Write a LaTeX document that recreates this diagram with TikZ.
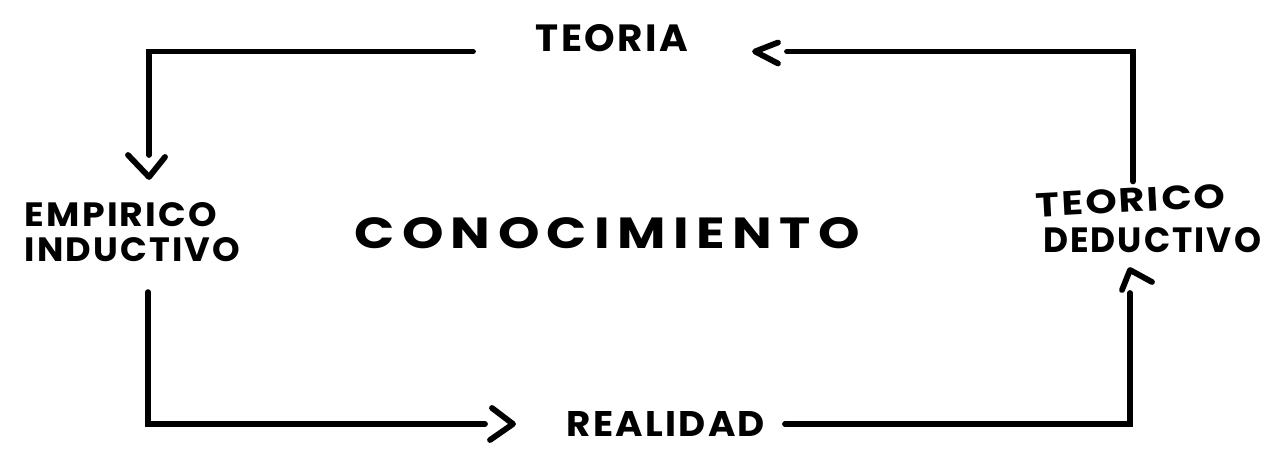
\documentclass[tikz,border=0pt]{standalone}
\usepackage{graphicx}
\usepackage{fontspec}
\setmainfont{Poppins}
\usetikzlibrary{calc}
\newcommand{\fitbox}[3]{\resizebox{#1}{#2}{\bfseries\addfontfeature{LetterSpace=6}#3}}
\newcommand{\spacedbox}[3]{\resizebox{#1}{#2}{\bfseries\addfontfeature{LetterSpace=14}#3}}
\begin{document}
\begin{tikzpicture}[x=1pt,y=-1pt,
  lbl/.style={inner sep=0pt, outer sep=0pt},
  twoline/.style={lbl, align=left, font=\fontsize{10}{35}\selectfont},
  conn/.style={line width=5.8pt, line cap=round, line join=miter},
  chevron/.style={line width=5.8pt, line cap=round, line join=round}]
\useasboundingbox[fill=white] (0,0) rectangle (1272,449);
% labels
\node[lbl] (teoria) at (612,38.5) {\fitbox{152pt}{27pt}{TEORIA}};
\node[twoline] (emp) at (132.5,232.5) {\fitbox{192pt}{24pt}{EMPIRICO}\\\fitbox{215pt}{24pt}{INDUCTIVO}};
\node[twoline] (teo) at (1148,218) {\rotatebox{3}{\fitbox{190pt}{24pt}{TEORICO}}\\\hspace*{8pt}\fitbox{218pt}{25pt}{DEDUCTIVO}};
\node[lbl] (real) at (666,424) {\fitbox{198pt}{25pt}{REALIDAD}};
\node[lbl] (con) at (607,233) {\spacedbox{505pt}{31pt}{CONOCIMIENTO}};
% corner x positions and arrow tips
\coordinate (xl) at (148,0);
\coordinate (xr) at (1133,0);
\coordinate (tipT) at (755,51.5);
\coordinate (tipL) at (149,177);
\coordinate (tipB) at (513,424);
\coordinate (tipR) at (1130,270);
% connectors
\draw[conn, shorten >=32pt] ($(teo.north -| xr)+(0,-2)$) |- (tipT);
\draw[conn, shorten >=22pt] ($(teoria.west |- tipT)+(-63,0)$) -| (tipL);
\draw[conn, shorten >=28pt] ($(emp.south -| xl)+(0,30)$) |- (tipB);
\draw[conn, shorten >=23pt] ($(real.east |- tipB)+(20,0)$) -| (tipR);
% arrowheads
\draw[chevron] ($(tipT)+(23,-9)$) -- (tipT) -- ($(tipT)+(23,12)$);
\draw[chevron] ($(tipL)+(-21,-22)$) -- (tipL) -- ($(tipL)+(16,-20)$);
\draw[chevron] ($(tipB)+(-21,-16)$) -- (tipB) -- ($(tipB)+(-23,16)$);
\draw[chevron] ($(tipR)+(-8,20)$) -- (tipR) -- ($(tipR)+(22,12)$);
\end{tikzpicture}
\end{document}
